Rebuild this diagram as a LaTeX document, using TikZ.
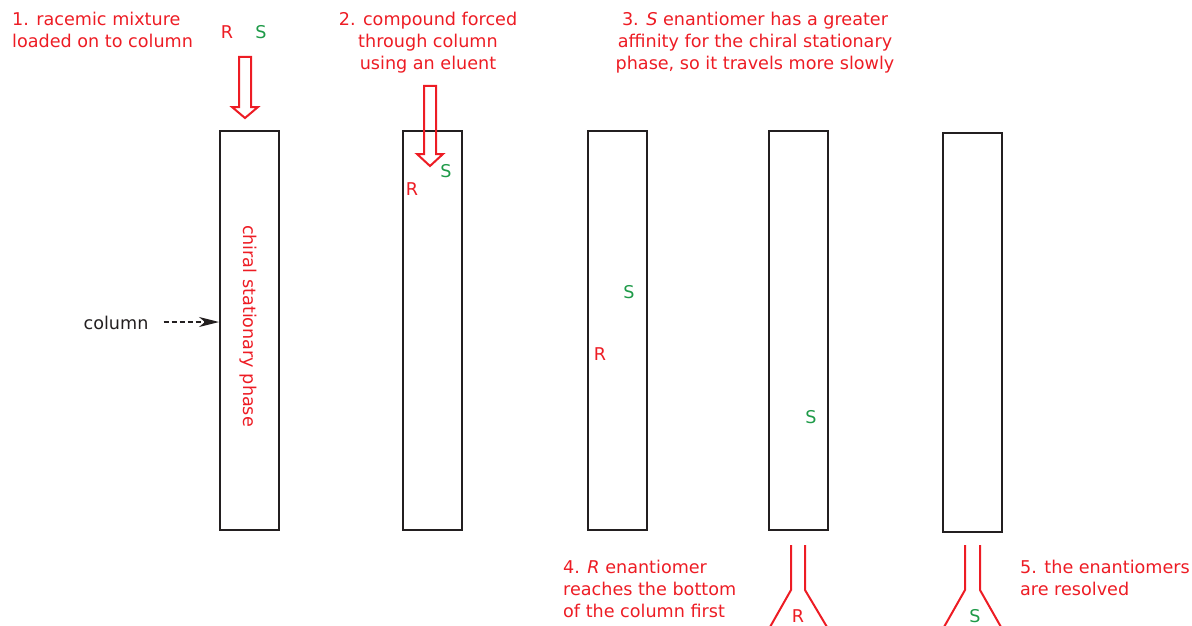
\documentclass[tikz,border=0pt]{standalone}
\usepackage{fontspec}
\setmainfont{DejaVu Sans}
\usetikzlibrary{arrows.meta}
\definecolor{cred}{HTML}{ED1C24}
\definecolor{cgreen}{HTML}{1E9A48}
\definecolor{cblack}{HTML}{231F20}
\begin{document}
\begin{tikzpicture}[x=1pt,y=-1pt,
  every node/.style={font=\fontsize{17.6}{22}\selectfont},
  colbox/.style={draw=cblack,line width=2pt,minimum width=59pt,minimum height=399pt,inner sep=0pt,anchor=north west},
  redtxt/.style={text=cred,inner sep=0pt},
  greentxt/.style={text=cgreen,inner sep=0pt},
  hollow/.style={draw=cred,line width=2pt,line join=miter,fill=white},
  outlet/.style={draw=cred,line width=2pt}]
\useasboundingbox (0,0) rectangle (1192,626);
% columns
\node[colbox] (c1) at (219,130) {};
\node[colbox] (c2) at (402,130) {};
\node[colbox] (c3) at (587,130) {};
\node[colbox] (c4) at (768,130) {};
\node[colbox] (c5) at (942,132) {};
% column label
\node[redtxt,rotate=-90] (phase) at (248,326) {chiral stationary phase};
\node[inner sep=0pt,text=cblack] (collab) at (116,323) {column};
\draw[cblack,line width=1.4pt,dash pattern=on 5pt off 3pt,-{Stealth[length=20pt,width=10pt,inset=6pt]}] (collab.east) ++(15,-1) coordinate (dstart) -- (c1.west |- dstart);
% step texts
\node[redtxt,align=left,anchor=north west] (t1) at (12,12) {1. racemic mixture\\loaded on to column};
\node[redtxt,align=center,anchor=north] (t2) at (428,12) {2. compound forced\\through column\\using an eluent};
\node[redtxt,align=center,anchor=north] (t3) at (755,12) {3. \textit{S} enantiomer has a greater\\affinity for the chiral stationary\\phase, so it travels more slowly};
\node[redtxt,align=left,anchor=north west] (t4) at (563,560) {4. \textit{R} enantiomer\\reaches the bottom\\of the column first};
\node[redtxt,align=left,anchor=north west] (t5) at (1020,560) {5. the enantiomers\\are resolved};
% R / S markers
\node[redtxt] (r1) at (227,32) {R};
\node[greentxt] (s1) at (261,32) {S};
% hollow arrows
\draw[hollow] (239,57) -- (251,57) -- (251,107) -- (258,107) -- (245,118) -- (232,107) -- (239,107) -- cycle;
\draw[hollow,fill=none] (424,86) -- (436,86) -- (436,154) -- (443,154) -- (430,166) -- (417,154) -- (424,154) -- cycle;
\node[greentxt] (s2) at (446,171) {S};
\node[redtxt] (r2) at (412,189) {R};
\node[greentxt] (s3) at (629,292) {S};
\node[redtxt] (r3) at (600,354) {R};
\node[greentxt] (s4) at (811,417) {S};
% outlets
\draw[outlet] (791,545) -- (791,590) -- (770,627);
\draw[outlet] (805,545) -- (805,590) -- (827,627);
\node[redtxt] (r5) at (798,616) {R};
\draw[outlet] (965,545) -- (965,590) -- (944,627);
\draw[outlet] (980,545) -- (980,590) -- (1001,627);
\node[greentxt] (s5) at (975,616) {S};
\end{tikzpicture}
\end{document}
